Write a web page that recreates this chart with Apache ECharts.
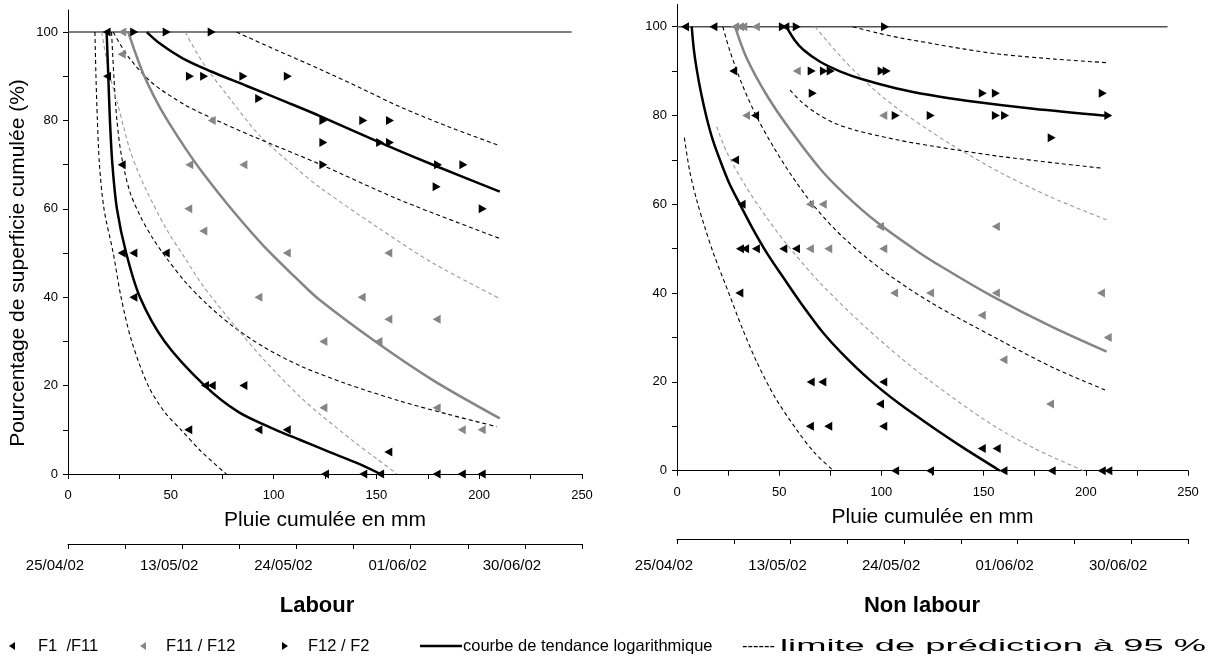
<!DOCTYPE html>
<html><head><meta charset="utf-8">
<script src="https://cdn.jsdelivr.net/npm/echarts@6/dist/echarts.min.js"></script>
<style>html,body{margin:0;padding:0;background:#fff}#c{width:1211px;height:669px}</style>
</head><body><div id="c"></div>
<script>
// ---------- DATA (mm cumulated rain, % cumulated surface) ----------
const xTicks = [0, 25, 50, 75, 100, 125, 150, 175, 200, 225, 250];
const xLabels = [0, 50, 100, 150, 200, 250];
const yTicks = [0, 10, 20, 30, 40, 50, 60, 70, 80, 90, 100];
const yLabels = [0, 20, 40, 60, 80, 100];
const dateLabels = ['25/04/02', '13/05/02', '24/05/02', '01/06/02', '30/06/02'];
const dateTicks = [0, 1, 2, 3, 4, 5, 6, 7, 8, 9];
const dateLabelPos = [0, 2, 4, 6, 8];

// Labour – points
const labourF1F11 = [[18.8,100],[19,90],[26.1,70],[26.1,50],[31.8,50],[47.5,50],[31.8,40],[66.6,20],[69.9,20],[85.3,20],[58.5,10],[92.6,10],[106.4,10],[155.8,5],[125,0],[143.6,0],[151.8,0],[179.3,0],[191.5,0],[201.2,0]];
const labourF11F12 = [[26.4,100],[26.1,95],[69.9,80],[59,70],[85.3,70],[58.5,60],[65.8,55],[106.4,50],[155.8,50],[92.6,40],[142.8,40],[155.8,35],[179.3,35],[124.2,30],[151,30],[124.2,15],[179.3,15],[191.5,10],[201.2,10]];
const labourF12F2 = [[32.2,100],[48,100],[69.9,100],[59.3,90],[66.2,90],[85.3,90],[106.9,90],[93,85],[124.2,80],[143.6,80],[156.6,80],[124.2,75],[151.8,75],[156.6,75],[124.2,70],[180,70],[192.3,70],[179.3,65],[201.7,60]];
// Labour – trend curves and 95 % prediction limits
const labourTrendF1F11 = [[18.8,100],[19.6,90],[20.4,80],[21.6,70],[23.8,60],[28.3,50],[35,40],[47,30],[66.5,20],[83,14],[101,10],[113,7.7],[127,5],[141,2.4],[152,0]];
const labourLowF1F11 = [[13.1,100],[13.6,90],[14.3,80],[15.3,70],[17.5,60],[22,50],[25.8,40],[31,30],[39,20],[47,14],[55,10],[65,5],[77,0]];
const labourUpF1F11 = [[21.2,100],[22.3,90],[23.8,80],[26,72],[30,64],[35,58.5],[41,53.5],[48,48.8],[57,43.5],[67.4,38.5],[80,33.5],[95,28.8],[112.8,24.5],[135,20.5],[161.5,16.5],[185,13.5],[208.5,10.7]];
const labourTrendF11F12 = [[29.3,100],[33,95],[36.6,90.6],[42,85.3],[48,80.3],[57.7,73.3],[65.8,68],[80.3,59.5],[95,51.7],[112.8,43.5],[122.6,39.3],[150,29.8],[177.6,21.2],[210,12.6]];
const labourLowF11F12 = [[16.4,100],[18.5,94.4],[21,89],[24,84],[27,78.6],[30.2,73.2],[34,68.5],[38,64.3],[48,55.3],[57,48.8],[65.8,42.5],[80.3,34],[95,26],[112.8,17.5],[122.6,13.5],[140,7],[150,3.5],[160,0]];
const labourUpF11F12 = [[57,100],[65.7,93],[80.3,84],[93.4,76.5],[112.8,68.5],[122.6,64.8],[150,56],[177.6,47.7],[210,39.7]];
const labourTrendF12F2 = [[38.3,100],[44.7,97.4],[56,94],[69,91.2],[87,87.8],[106,84.2],[122.6,81],[151.8,75],[181,69.3],[210,63.9]];
const labourUpF12F2 = [[82,100],[101.5,95.9],[122.6,91.6],[142,87.4],[161.5,83.1],[185,78.6],[209.3,74.4]];
const labourLowF12F2 = [[22,100],[29.2,94.5],[40.7,88.6],[57,83.5],[71.5,80.2],[90,76.4],[123,70],[161.5,62],[210,53.3]];

// Non labour – points
const nonF1F11 = [[3.9,100],[17.8,100],[53,100],[27.5,90],[38.2,80],[28.4,70],[31.6,60],[30.8,50],[33.3,50],[38.6,50],[52,50],[58.2,50],[30.5,40],[65.4,20],[71.1,20],[100.9,20],[99.3,15],[65,10],[74,10],[100.9,10],[149.1,5],[156.4,5],[106.7,0],[123.8,0],[159.7,0],[183.3,0],[207.8,0],[211,0]];
const nonF11F12 = [[28.4,100],[30.8,100],[32.4,100],[38.6,100],[58.6,90],[33.8,80],[100.9,80],[65,60],[71.3,60],[99.3,55],[156,55],[65,50],[74,50],[100.9,50],[106.2,40],[123.8,40],[156,40],[207.4,40],[149.1,35],[210.7,30],[159.7,25],[182.5,15]];
const nonF12F2 = [[51.8,100],[58.6,100],[101.8,100],[65.9,90],[71.9,90],[75.2,90],[100.1,90],[102.6,90],[66.4,85],[149.6,85],[156,85],[208.3,85],[107,80],[124.1,80],[156,80],[160.5,80],[211,80],[183.3,75]];
// Non labour – trend curves and 95 % prediction limits
const nonTrendF1F11 = [[7.2,100],[8.2,95],[9.6,90.5],[11.8,85],[14.5,79.5],[17.5,74.5],[21,70],[25.5,64.8],[30.8,60],[37.3,54.3],[44,49],[52,43.5],[61,37.5],[71.6,31],[82,25.8],[94.4,20.4],[109,15],[123.8,10.2],[140,5.2],[158,0]];
const nonLowF1F11 = [[3.6,75],[6.2,67.5],[9.6,61],[13.5,55],[17.8,49],[26,39.2],[32,32],[39,24.5],[48,16.5],[58.6,9.2],[67,4.2],[76.5,0]];
const nonUpF1F11 = [[22.4,100],[25.9,94.5],[31.6,87.3],[39,79.7],[47.1,73],[55.3,67],[66.7,59.8],[81.4,52.5],[101,45],[123.8,38],[158,29.4],[185,23],[209.4,18.2]];
const nonTrendF11F12 = [[28.4,100],[34,93],[44,84.5],[55,77],[70,68],[82,62.3],[97.7,56],[117.3,49.5],[130.3,45.7],[153,39.6],[182.5,32.6],[210.2,26.8]];
const nonLowF11F12 = [[19.4,77.5],[24.3,71.8],[34.1,63.7],[43.9,57],[53.7,51],[70,42.3],[91.1,32.8],[109,25.6],[123.8,20.2],[153,10.7],[175,5],[198.8,0]];
const nonUpF11F12 = [[67.5,100],[81.4,92.6],[97.7,85.3],[109,81.2],[123.8,76.5],[133.6,73.6],[158,67.2],[182.5,61.7],[210.2,56.5]];
const nonTrendF12F2 = [[53.5,100],[57.5,97],[61.8,94.8],[70,92.1],[80,89.9],[91.1,88.1],[107.5,86.1],[123.8,84.6],[141.7,83.3],[174.3,81.5],[211,79.9]];
const nonUpF12F2 = [[86,100],[98,98.6],[109,97.5],[123.8,96.3],[140,95],[158,93.8],[185,92.7],[210.2,91.9]];
const nonLowF12F2 = [[55.3,85.7],[61,83],[68.3,80.5],[77,78.3],[87.9,76.6],[109,74.4],[123.8,73.2],[158,70.8],[208.4,68.1]];

// 100 % reference lines
const labourRef = [[0,100],[245,100]];
const nonRef = [[0,100],[240,100]];

// ---------- STYLE ----------
const FONT = "'Liberation Sans', Arial, Helvetica, sans-serif";
const BLACK = '#000000';
const GREY = '#858585';
const GREY_DASH = '#9a9a9a';

function valueXAxis(gi) {
  return {
    type: 'value', gridIndex: gi, min: 0, max: 250,
    axisLine: { show: true, lineStyle: { color: '#000', width: 1 } },
    axisTick: { show: true, length: 5, customValues: xTicks, lineStyle: { color: '#000' } },
    axisLabel: { customValues: xLabels, fontFamily: FONT, fontSize: 13, color: '#000', margin: 15 },
    splitLine: { show: false },
    name: 'Pluie cumulée en mm', nameLocation: 'middle', nameGap: 36,
    nameTextStyle: { fontFamily: FONT, fontSize: 21, color: '#000' }
  };
}
function valueYAxis(gi) {
  return {
    type: 'value', gridIndex: gi, min: 0, max: 105,
    axisLine: { show: true, lineStyle: { color: '#000', width: 1 } },
    axisTick: { show: true, length: 5, customValues: yTicks, lineStyle: { color: '#000' } },
    axisLabel: { customValues: yLabels, fontFamily: FONT, fontSize: 13, color: '#000', margin: 10 },
    splitLine: { show: false }
  };
}
function dateXAxis(gi, margin) {
  return {
    type: 'value', gridIndex: gi, min: 0, max: 9,
    axisLine: { show: true, lineStyle: { color: '#000', width: 1 } },
    axisTick: { show: true, length: 5, customValues: dateTicks, lineStyle: { color: '#000' } },
    axisLabel: {
      customValues: dateLabelPos, fontFamily: FONT, fontSize: 15, color: '#000', margin: margin,
      padding: [0, 26, 0, 0],
      formatter: v => dateLabels[Math.round(v / 2)] || ''
    },
    splitLine: { show: false }
  };
}
function hiddenY(gi) {
  return { type: 'value', gridIndex: gi, show: false, min: 0, max: 1 };
}
function curve(data, gi, color, width, dashed) {
  return {
    type: 'line', xAxisIndex: gi, yAxisIndex: gi, data: data,
    symbol: 'none', showSymbol: false, smooth: 0.3, silent: true, z: 2,
    lineStyle: { color: color, width: width, type: dashed ? [4, 3] : 'solid' }
  };
}
function points(data, gi, color, dir) {
  return {
    type: 'scatter', xAxisIndex: gi, yAxisIndex: gi, data: data,
    symbol: 'triangle', symbolSize: [9, 8], symbolRotate: dir === 'left' ? 90 : -90,
    itemStyle: { color: color, opacity: 1 }, z: 5, silent: true
  };
}
function refLine(data, gi) {
  return {
    type: 'line', xAxisIndex: gi, yAxisIndex: gi, data: data, symbol: 'none',
    silent: true, z: 1, lineStyle: { color: '#505050', width: 1.5 }
  };
}

const series = [
  refLine(labourRef, 0),
  curve(labourLowF1F11, 0, BLACK, 1.1, true),
  curve(labourUpF1F11, 0, BLACK, 1.1, true),
  curve(labourLowF11F12, 0, GREY_DASH, 1.1, true),
  curve(labourUpF11F12, 0, GREY_DASH, 1.1, true),
  curve(labourLowF12F2, 0, BLACK, 1.1, true),
  curve(labourUpF12F2, 0, BLACK, 1.1, true),
  curve(labourTrendF1F11, 0, BLACK, 2.5, false),
  curve(labourTrendF11F12, 0, GREY, 2.5, false),
  curve(labourTrendF12F2, 0, BLACK, 2.5, false),
  points(labourF1F11, 0, BLACK, 'left'),
  points(labourF11F12, 0, GREY, 'left'),
  points(labourF12F2, 0, BLACK, 'right'),

  refLine(nonRef, 1),
  curve(nonLowF1F11, 1, BLACK, 1.1, true),
  curve(nonUpF1F11, 1, BLACK, 1.1, true),
  curve(nonLowF11F12, 1, GREY_DASH, 1.1, true),
  curve(nonUpF11F12, 1, GREY_DASH, 1.1, true),
  curve(nonLowF12F2, 1, BLACK, 1.1, true),
  curve(nonUpF12F2, 1, BLACK, 1.1, true),
  curve(nonTrendF1F11, 1, BLACK, 2.5, false),
  curve(nonTrendF11F12, 1, GREY, 2.5, false),
  curve(nonTrendF12F2, 1, BLACK, 2.5, false),
  points(nonF1F11, 1, BLACK, 'left'),
  points(nonF11F12, 1, GREY, 'left'),
  points(nonF12F2, 1, BLACK, 'right')
];

function txt(x, y, text, size, opts) {
  opts = opts || {};
  return {
    type: 'text', x: x, y: y, rotation: opts.rotation || 0, silent: true,
    scaleX: opts.scaleX || 1,
    style: {
      text: text, fontFamily: FONT, fontSize: size, fontWeight: opts.bold ? 'bold' : 'normal',
      fill: '#000', align: opts.align || 'left', verticalAlign: 'middle'
    }
  };
}
// stretch factor so the last legend text spans the same width as in the figure
const limitText = 'limite de prédiction à 95 %';
const mctx = document.createElement('canvas').getContext('2d');
mctx.font = "16.5px 'Liberation Sans', Arial, sans-serif";
const limitScale = Math.max(1, (1206 - 780) / mctx.measureText(limitText).width);

const LY = 646;
const graphic = [
  txt(18, 263, 'Pourcentage de superficie cumulée (%)', 21, { rotation: Math.PI / 2, align: 'center' }),
  txt(317, 606, 'Labour', 22, { bold: true, align: 'center' }),
  txt(922, 606, 'Non labour', 22, { bold: true, align: 'center' }),
  { type: 'polygon', silent: true, shape: { points: [[9, LY], [15, LY - 4], [15, LY + 4]] }, style: { fill: BLACK } },
  txt(38, LY, 'F1  /F11', 16.5),
  { type: 'polygon', silent: true, shape: { points: [[140, LY], [146, LY - 4], [146, LY + 4]] }, style: { fill: GREY } },
  txt(166, LY, 'F11 / F12', 16.5),
  { type: 'polygon', silent: true, shape: { points: [[288, LY], [282, LY - 4], [282, LY + 4]] }, style: { fill: BLACK } },
  txt(308, LY, 'F12 / F2', 16.5),
  { type: 'line', silent: true, shape: { x1: 420, y1: LY, x2: 462, y2: LY }, style: { stroke: BLACK, lineWidth: 2.5 } },
  txt(463, LY, 'courbe de tendance logarithmique', 16.5),
  txt(742, LY, '------', 16.5),
  txt(780, LY, limitText, 16.5, { scaleX: limitScale })
];

const chart = echarts.init(document.getElementById('c'), null, { renderer: 'canvas' });
chart.setOption({
  animation: false,
  backgroundColor: '#fff',
  grid: [
    { left: 68, top: 10, width: 514, height: 464 },
    { left: 677, top: 4.5, width: 511, height: 466.2 },
    { left: 68, top: 501, width: 514, height: 43 },
    { left: 677, top: 496, width: 511, height: 43 }
  ],
  xAxis: [valueXAxis(0), valueXAxis(1), dateXAxis(2, 14), dateXAxis(3, 19)],
  yAxis: [valueYAxis(0), valueYAxis(1), hiddenY(2), hiddenY(3)],
  series: series,
  graphic: graphic
});
</script></body></html>
